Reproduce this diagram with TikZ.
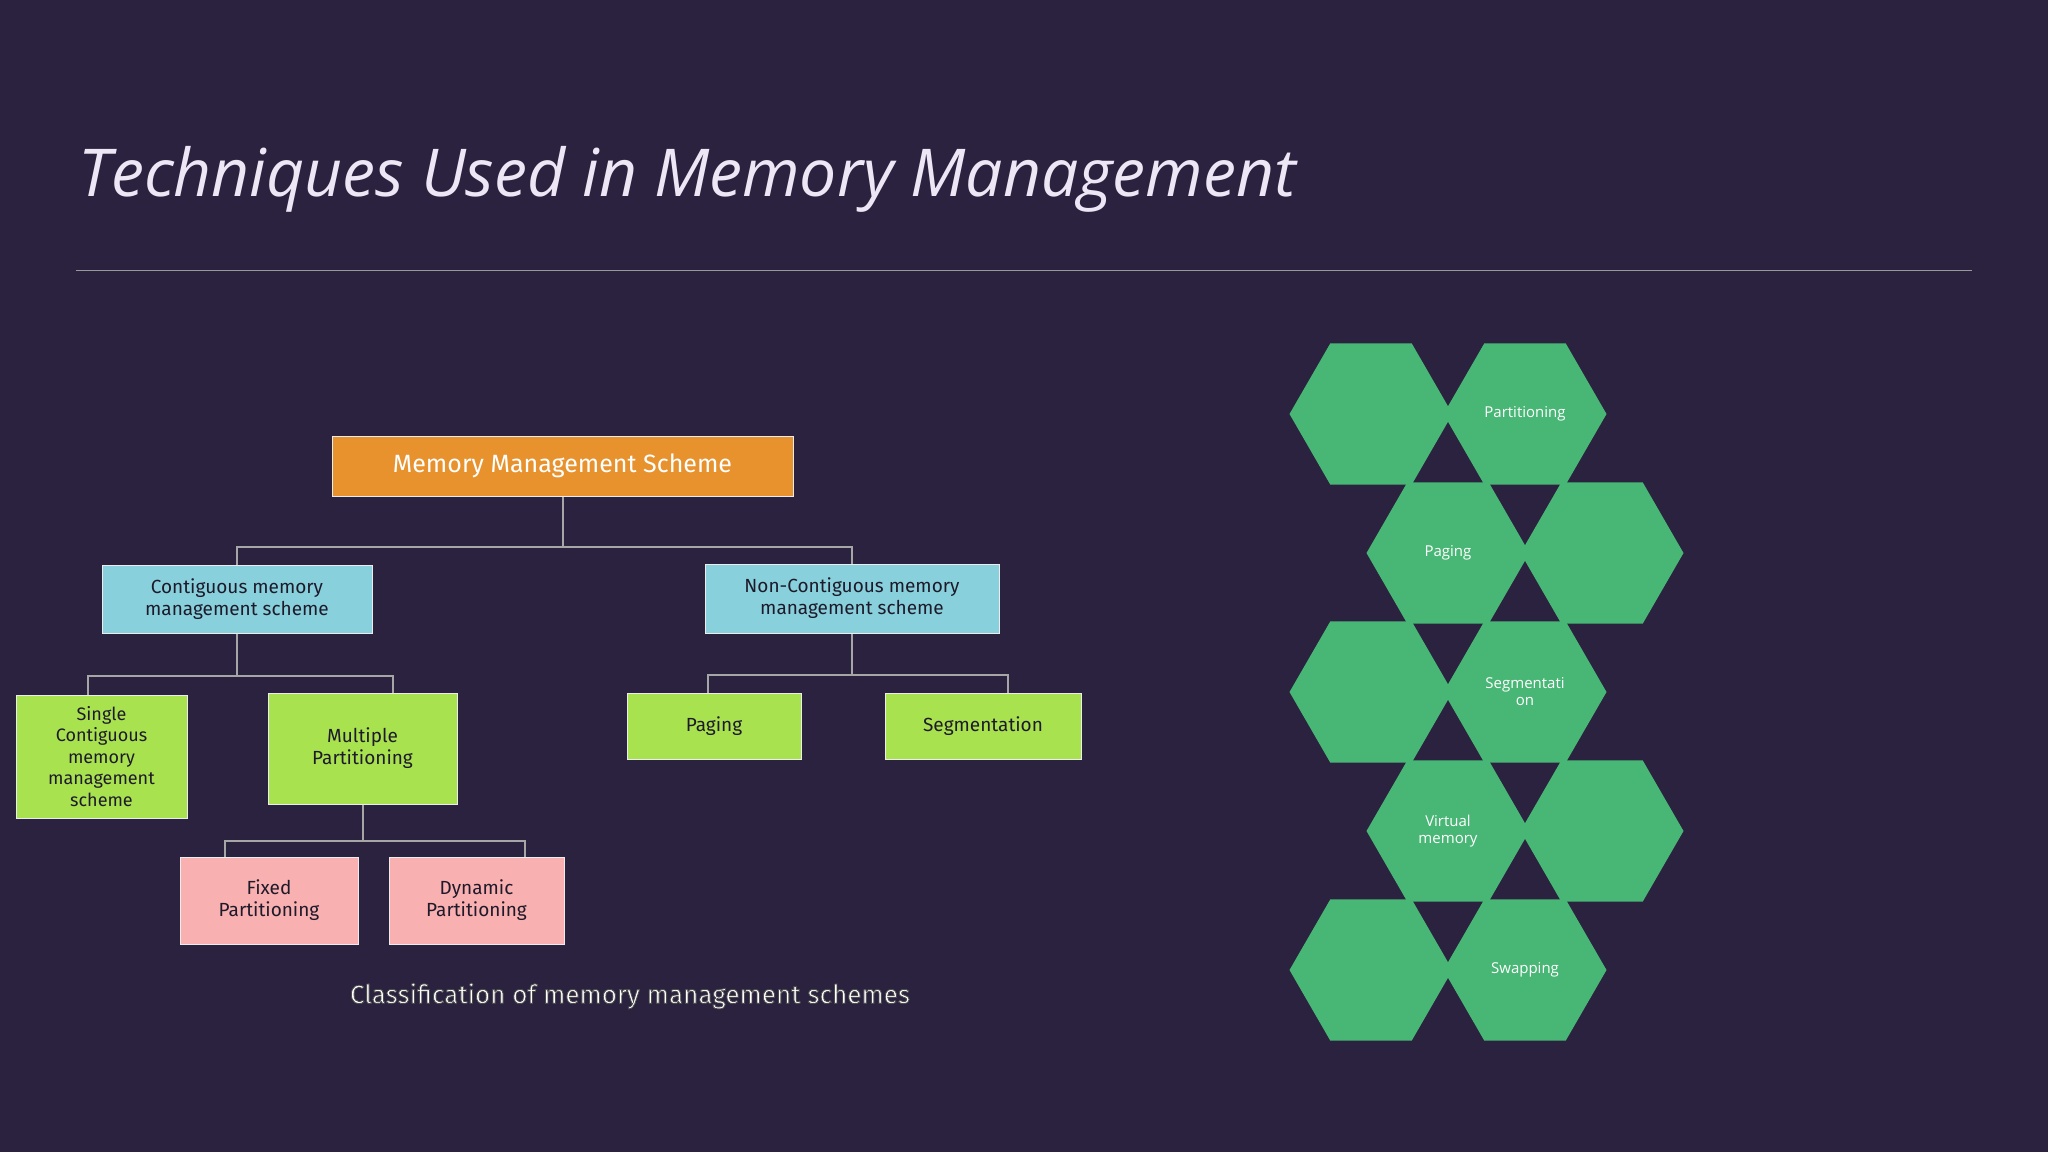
\documentclass[tikz,border=0pt]{standalone}
\usepackage{fontspec}
\setmainfont{Open Sans}
\newfontfamily\boxf{Fira Sans}
\usetikzlibrary{shapes.geometric}
\definecolor{bg}{HTML}{2B2240}
\definecolor{ttl}{HTML}{EDE6F5}
\definecolor{hexg}{HTML}{48B674}
\definecolor{org}{HTML}{E8922E}
\definecolor{lblue}{HTML}{88D1DC}
\definecolor{lgreen}{HTML}{A9E24F}
\definecolor{pink}{HTML}{F9B0B1}
\definecolor{txt}{HTML}{1E1A2A}
\begin{document}
\begin{tikzpicture}[x=1pt,y=-1pt,
  hex/.style={regular polygon,regular polygon sides=6,minimum size=163pt,inner sep=0pt,fill=hexg,draw=none,text=white,font=\fontsize{15}{17}\selectfont,align=center},
  bx/.style={draw=white!85!gray,line width=1pt,font=\boxf\fontsize{19}{22}\selectfont,text=txt,align=center,inner sep=0pt},
  con/.style={draw=gray!70,line width=2pt}]
\fill[bg] (0,0) rectangle (2048,1152);
\useasboundingbox (0,0) rectangle (2048,1152);
\node[anchor=base west,text=ttl,font=\itshape\fontsize{66}{70}\selectfont,inner sep=0pt] (title) at (78,196) {Techniques Used in Memory Management};
\coordinate (la) at (76,270); \coordinate (lb) at (1972,270);
\draw[gray!80,line width=1pt] (la) -- (lb);
% hexagons
\node[hex] (h1) at (1371,414) {};
\node[hex] (h2) at (1525,414) {Partitioning};
\node[hex] (h3) at (1448,553) {Paging};
\node[hex] (h4) at (1602,553) {};
\node[hex] (h5) at (1371,692) {};
\node[hex] (h6) at (1525,692) {Segmentati\\on};
\node[hex] (h7) at (1448,831) {Virtual\\memory};
\node[hex] (h8) at (1602,831) {};
\node[hex] (h9) at (1371,970) {};
\node[hex] (h10) at (1525,970) {Swapping};
% tree
\node[bx,fill=org,text=white,font=\boxf\fontsize{25}{28}\selectfont,minimum width=461pt,minimum height=60pt] (root) at (562.5,466) {Memory Management Scheme};
\node[bx,fill=lblue,minimum width=270pt,minimum height=68pt] (cont) at (237,599) {Contiguous memory\\management scheme};
\node[bx,fill=lblue,minimum width=294pt,minimum height=69pt] (ncont) at (852,598.5) {Non-Contiguous memory\\management scheme};
\node[bx,fill=lgreen,minimum width=171pt,minimum height=123pt,font=\boxf\fontsize{18}{21.5}\selectfont] (single) at (101.5,756.5) {Single\\Contiguous\\memory\\management\\scheme};
\node[bx,fill=lgreen,minimum width=189pt,minimum height=111pt] (mult) at (362.5,748.5) {Multiple\\Partitioning};
\node[bx,fill=lgreen,minimum width=174pt,minimum height=66pt] (pag) at (714,726) {Paging};
\node[bx,fill=lgreen,minimum width=196pt,minimum height=66pt] (seg) at (983,726) {Segmentation};
\node[bx,fill=pink,minimum width=178pt,minimum height=87pt] (fix) at (269,900.5) {Fixed\\Partitioning};
\node[bx,fill=pink,minimum width=175pt,minimum height=87pt] (dyn) at (476.5,900.5) {Dynamic\\Partitioning};
\draw[con] (root.south) -- ++(0,50) -| (cont.north);
\draw[con] (root.south) ++(0,50) -| (ncont.north);
\draw[con] (cont.south) -- ++(0,42) -| ([xshift=-14pt]single.north);
\draw[con] (cont.south) ++(0,42) -| ([xshift=30pt]mult.north);
\draw[con] (ncont.south) -- ++(0,41) -| ([xshift=-6pt]pag.north);
\draw[con] (ncont.south) ++(0,41) -| ([xshift=25pt]seg.north);
\draw[con] (mult.south) -- ++(0,36) -| ([xshift=-44pt]fix.north);
\draw[con] (mult.south) ++(0,36) -| ([xshift=48pt]dyn.north);
\node[font=\boxf\fontsize{26}{30}\selectfont,text=white,draw=none] (cap) at (630,996) {\special{pdf:literal 2 Tr 0.8 w 0.3 0.3 0.3 RG}Classification of memory management schemes\special{pdf:literal 0 Tr}};
\end{tikzpicture}
\end{document}
